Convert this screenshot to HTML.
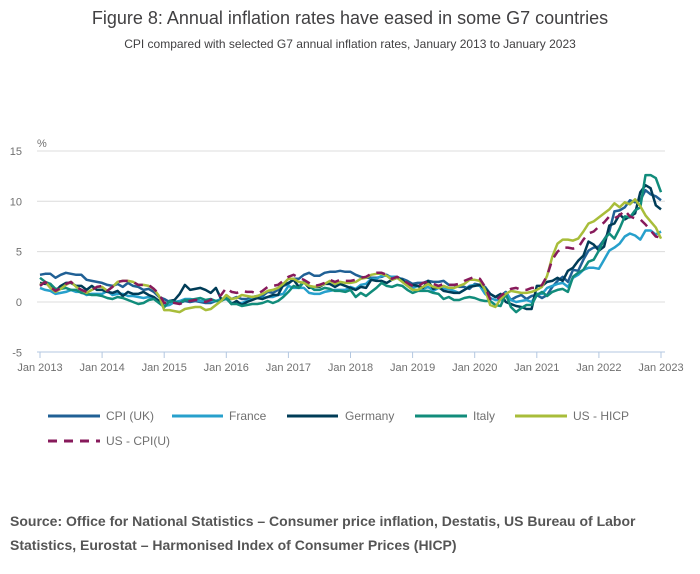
<!DOCTYPE html>
<html><head><meta charset="utf-8"><style>
body{margin:0;background:#fff;font-family:"Liberation Sans",sans-serif;}
#wrap{position:relative;width:700px;height:574px;overflow:hidden;}
svg text{font-family:"Liberation Sans",sans-serif;}
</style></head><body>
<div id="wrap">
<svg id="chart" width="700" height="574">
<text x="350" y="24" text-anchor="middle" font-size="18" fill="#414042">Figure 8: Annual inflation rates have eased in some G7 countries</text>
<text x="350" y="48" text-anchor="middle" font-size="12" fill="#414042">CPI compared with selected G7 annual inflation rates, January 2013 to January 2023</text>
<text x="37" y="147" font-size="11" fill="#707070">%</text>
<g id="grid"></g><g id="series"></g>
<g font-size="12" fill="#707070">
<line x1="48" y1="416" x2="100" y2="416" stroke="#206095" stroke-width="3"/><text x="106" y="420">CPI (UK)</text>
<line x1="172" y1="416" x2="223" y2="416" stroke="#27a0cc" stroke-width="3"/><text x="229" y="420">France</text>
<line x1="287" y1="416" x2="338" y2="416" stroke="#003c57" stroke-width="3"/><text x="345" y="420">Germany</text>
<line x1="415" y1="416" x2="467" y2="416" stroke="#118c7b" stroke-width="3"/><text x="473" y="420">Italy</text>
<line x1="515" y1="416" x2="567" y2="416" stroke="#a8bd3a" stroke-width="3"/><text x="573" y="420">US - HICP</text>
<line x1="48" y1="441" x2="100" y2="441" stroke="#871a5b" stroke-width="3" stroke-dasharray="9,7"/><text x="106" y="445">US - CPI(U)</text>
</g>
<text x="10" y="526" font-size="14" font-weight="bold" fill="#555555">Source:  Office for National Statistics – Consumer price inflation, Destatis, US Bureau of Labor</text>
<text x="10" y="550" font-size="14" font-weight="bold" fill="#555555">Statistics, Eurostat – Harmonised Index of Consumer Prices (HICP)</text>
</svg></div>
<script>
const yTicks=[15,10,5,0,-5];
const xTickLabels=["Jan 2013","Jan 2014","Jan 2015","Jan 2016","Jan 2017","Jan 2018","Jan 2019","Jan 2020","Jan 2021","Jan 2022","Jan 2023"];
const cpiUK=[2.7,2.8,2.8,2.4,2.7,2.9,2.8,2.7,2.7,2.2,2.1,2.0, 1.9,1.7,1.6,1.8,1.5,1.9,1.6,1.5,1.2,1.3,1.0,0.5, 0.3,0.0,0.0,-0.1,0.1,0.0,0.1,0.0,-0.1,-0.1,0.1,0.2, 0.3,0.3,0.5,0.3,0.3,0.5,0.6,0.6,1.0,0.9,1.2,1.6, 1.8,2.3,2.3,2.7,2.9,2.6,2.6,2.9,3.0,3.0,3.1,3.0, 3.0,2.7,2.5,2.4,2.4,2.4,2.5,2.7,2.4,2.4,2.3,2.1, 1.8,1.9,1.9,2.1,2.0,2.0,2.1,1.7,1.7,1.5,1.5,1.3, 1.8,1.7,1.5,0.8,0.5,0.6,1.0,0.2,0.5,0.7,0.3,0.6, 0.7,0.4,0.7,1.5,2.1,2.5,2.0,3.2,3.1,4.2,5.1,5.4, 5.5,6.2,7.0,9.0,9.1,9.4,10.1,9.9,10.1,11.1,10.7,10.5, 10.1];
const france=[1.4,1.2,1.1,0.8,0.9,1.0,1.2,1.0,1.0,0.7,0.8,0.8, 0.8,1.1,0.7,0.8,0.8,0.6,0.6,0.5,0.4,0.5,0.4,0.1, -0.4,-0.3,0.0,0.1,0.3,0.3,0.2,0.1,0.1,0.1,0.1,0.3, 0.3,-0.1,-0.1,-0.1,0.1,0.3,0.4,0.4,0.5,0.5,0.7,0.8, 1.6,1.4,1.4,1.4,0.9,0.8,0.8,1.0,1.1,1.2,1.2,1.2, 1.5,1.3,1.7,1.8,2.3,2.3,2.6,2.6,2.5,2.5,2.2,1.9, 1.4,1.6,1.3,1.5,1.1,1.4,1.3,1.3,1.1,0.9,1.2,1.6, 1.7,1.6,0.8,0.4,0.2,0.2,0.9,0.2,0.0,0.1,0.2,0.0, 0.8,0.8,1.4,1.6,1.8,1.9,1.5,2.4,2.7,3.2,3.4,3.4, 3.3,4.2,5.1,5.4,5.8,6.5,6.8,6.6,6.2,7.1,7.1,6.7, 7.0];
const germany=[1.9,1.8,1.8,1.1,1.6,1.9,1.9,1.6,1.6,1.2,1.6,1.2, 1.2,1.0,0.9,1.1,0.6,1.0,0.8,0.8,1.0,0.7,0.5,0.1, -0.5,0.1,0.2,0.8,1.7,1.2,1.3,1.4,1.2,0.9,1.4,0.3, 0.4,-0.2,0.1,-0.3,0.0,0.2,0.4,0.3,0.5,0.7,0.7,1.7, 1.9,2.2,1.5,2.0,1.4,1.5,1.5,1.8,1.8,1.5,1.8,1.6, 1.4,1.2,1.5,1.4,2.2,2.1,2.1,1.9,2.2,2.4,2.2,1.7, 1.7,1.6,1.4,2.1,1.3,1.5,1.1,1.0,0.9,0.9,1.2,1.5, 1.6,1.7,1.3,0.8,0.5,0.8,0.0,-0.2,-0.4,-0.5,-0.7,-0.7, 1.6,1.6,2.0,2.1,2.4,2.1,3.1,3.4,4.1,4.6,6.0,5.7, 5.1,5.5,7.6,7.8,8.7,8.2,8.5,8.8,10.9,11.6,11.3,9.6, 9.2];
const italy=[2.4,2.0,1.8,1.3,1.3,1.4,1.2,1.2,0.9,0.8,0.7,0.7, 0.6,0.4,0.3,0.5,0.4,0.2,0.0,-0.2,-0.1,0.2,0.3,-0.1, -0.5,0.1,0.0,-0.1,0.2,0.2,0.3,0.4,0.2,0.3,0.1,0.1, 0.4,-0.2,-0.2,-0.4,-0.3,-0.2,-0.2,-0.1,0.1,-0.1,0.1,0.5, 1.0,1.6,1.4,2.0,1.6,1.2,1.2,1.4,1.3,1.1,1.1,1.0, 1.2,0.5,0.9,0.6,1.0,1.4,1.9,1.6,1.5,1.7,1.6,1.2, 0.9,1.1,1.1,1.1,0.9,0.8,0.3,0.5,0.2,0.2,0.4,0.5, 0.4,0.2,0.1,0.1,-0.3,-0.4,0.8,-0.5,-1.0,-0.6,-0.3,-0.3, 0.7,1.0,0.6,1.0,1.2,1.3,1.0,2.5,2.9,3.2,4.0,4.2, 5.1,6.2,6.8,6.3,7.3,8.5,8.4,9.1,9.4,12.6,12.6,12.3, 10.9];
const usHICP=[1.7,2.0,1.4,1.0,1.3,1.7,2.0,1.5,1.2,0.9,1.2,1.5, 1.5,1.1,1.5,2.0,2.1,2.1,2.0,1.7,1.7,1.6,1.3,0.6, -0.8,-0.8,-0.9,-1.0,-0.7,-0.6,-0.5,-0.5,-0.8,-0.7,-0.3,0.1, 0.7,0.3,0.4,0.7,0.6,0.5,0.6,0.8,1.1,1.2,1.4,1.8, 2.3,2.3,2.0,1.9,1.6,1.5,1.6,1.8,2.1,1.8,2.0,1.9, 1.9,2.0,2.3,2.4,2.7,2.8,2.8,2.6,2.2,2.4,2.0,1.6, 1.2,1.2,1.5,1.8,1.5,1.4,1.6,1.4,1.4,1.6,1.8,2.2, 2.2,2.1,1.2,-0.3,-0.5,0.3,0.8,1.1,1.0,0.9,0.9,1.0, 1.2,1.5,2.6,4.5,5.8,6.2,6.2,6.1,6.3,7.0,7.8,8.0, 8.4,8.8,9.2,9.8,9.4,9.9,9.7,10.2,9.5,8.6,8.0,7.4, 6.3];
const usCPIU=[1.6,2.0,1.5,1.1,1.4,1.8,2.0,1.5,1.2,1.0,1.2,1.5, 1.6,1.1,1.5,2.0,2.1,2.1,2.0,1.7,1.7,1.7,1.3,0.8, -0.1,0.0,-0.1,-0.2,0.0,0.1,0.2,0.2,0.0,0.2,0.5,0.7, 1.4,1.0,0.9,1.1,1.0,1.0,0.8,1.1,1.5,1.6,1.7,2.1, 2.5,2.7,2.4,2.2,1.9,1.6,1.7,1.9,2.2,2.0,2.2,2.1, 2.1,2.2,2.4,2.5,2.8,2.9,2.9,2.7,2.3,2.5,2.2,1.9, 1.6,1.5,1.9,2.0,1.8,1.6,1.8,1.7,1.7,1.8,2.1,2.3, 2.5,2.3,1.5,0.3,0.1,0.6,1.0,1.3,1.4,1.2,1.2,1.4, 1.4,1.7,2.6,4.2,5.0,5.4,5.4,5.3,5.4,6.2,6.8,7.0, 7.5,7.9,8.5,8.3,8.6,9.1,8.5,8.3,8.2,7.7,7.1,6.5, 6.4];
const NS="http://www.w3.org/2000/svg";
const xS=i=>40+i*(621/120);
const yS=v=>302-v*10.07;
const grid=document.getElementById('grid'),ser=document.getElementById('series');
function mk(t,a,p){const e=document.createElementNS(NS,t);for(const k in a)e.setAttribute(k,a[k]);p.appendChild(e);return e;}
yTicks.forEach(v=>{
  if(v>-5){const l=mk('line',{x1:37,x2:665,y1:yS(v),y2:yS(v),stroke:'#dcdcdc','stroke-width':1},grid);
  
  }
  const t=mk('text',{x:22,y:yS(v)+4,'text-anchor':'end','font-size':11,fill:'#707070'},grid);t.textContent=v;
  
  
});
const ax=mk('line',{x1:37,x2:665,y1:352,y2:352,stroke:'#b3c7e0','stroke-width':1},grid);


xTickLabels.forEach((s,k)=>{const x=xS(k*12);
  const tk=mk('line',{x1:x,x2:x,y1:352,y2:358,stroke:'#b3c7e0'},grid);
  
  
  const t=mk('text',{x:x,y:371,'text-anchor':'middle','font-size':11,fill:'#707070'},grid);t.textContent=s;
  
  
});
const series=[[cpiUK,'#206095','',"series-cpi-uk"],[france,'#27a0cc','',"series-france"],[germany,'#003c57','',"series-germany"],[italy,'#118c7b','',"series-italy"],[usHICP,'#a8bd3a','',"series-us-hicp"],[usCPIU,'#871a5b','9,7',"series-us-cpiu"]];
series.forEach(([d,c,da,n])=>{
  const p=mk('path',{d:d.map((v,i)=>(i?'L':'M')+xS(i).toFixed(1)+','+yS(v).toFixed(1)).join(''),fill:'none',stroke:c,'stroke-width':2.5,'stroke-linejoin':'round'},ser);
  if(da)p.setAttribute('stroke-dasharray',da);
  
  
});
</script>
</body></html>
